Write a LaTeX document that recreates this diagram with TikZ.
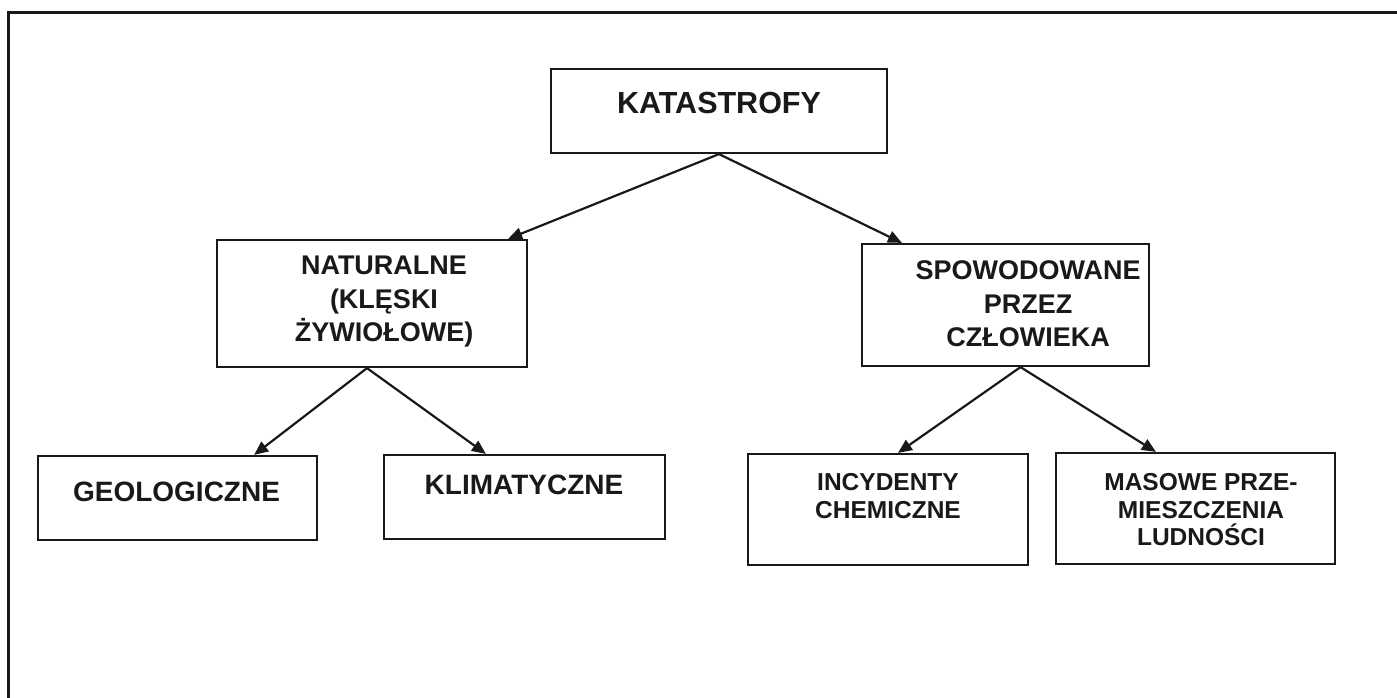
\documentclass[tikz,border=0pt]{standalone}
\usepackage{fontspec}
\setmainfont{Liberation Sans}
\usetikzlibrary{arrows.meta}
\begin{document}
\begin{tikzpicture}[x=1pt,y=-1pt,
  box/.style={draw=black!90,line width=2.2pt,rectangle,inner sep=0pt,anchor=center},
  lbl/.style={inner sep=0pt,align=center,text=black!90,font=\bfseries},
  ta/.style={lbl,font=\bfseries\fontsize{30.5}{36}\selectfont},
  tb/.style={lbl,font=\bfseries\fontsize{27}{33.5}\selectfont},
  tc/.style={lbl,font=\bfseries\fontsize{28}{33}\selectfont},
  td/.style={lbl,font=\bfseries\fontsize{24.5}{27.5}\selectfont},
  arr/.style={draw=black!90,line width=2.2pt,-{Triangle[length=14pt,width=12pt]}},
  frame/.style={draw=black!90,line width=3pt}]
\useasboundingbox (0,0) rectangle (1397,698);
\fill[white] (0,0) rectangle (1397,698);
\draw[frame] (8,698) -- (8,13) -- (1397,13);
% boxes
\node[box,minimum width=336pt,minimum height=84pt] (kat) at (719,111) {};
\node[box,minimum width=310pt,minimum height=127pt] (nat) at (372,303.5) {};
\node[box,minimum width=287pt,minimum height=122pt] (spo) at (1005.5,305) {};
\node[box,minimum width=279pt,minimum height=84pt] (geo) at (177.5,498) {};
\node[box,minimum width=281pt,minimum height=84pt] (kli) at (524.5,497) {};
\node[box,minimum width=280pt,minimum height=111pt] (inc) at (888,509.5) {};
\node[box,minimum width=279pt,minimum height=111pt] (mas) at (1195.5,508.5) {};
% texts
\node[ta] (katt) at (719,103) {KATASTROFY};
\node[tb] (natt) at (384,302) {NATURALNE\\(KLĘSKI\\ŻYWIOŁOWE)};
\node[tb] (spot) at (1028,304) {SPOWODOWANE\\PRZEZ\\CZŁOWIEKA};
\node[tc] (geot) at (176.5,492) {GEOLOGICZNE};
\node[tc] (klit) at (524,485) {KLIMATYCZNE};
\node[td] (inct) at (888,496) {INCYDENTY\\CHEMICZNE};
\node[td] (mast) at (1201,510) {MASOWE PRZE-\\MIESZCZENIA\\LUDNOŚCI};
% arrows
\draw[arr] (kat.south) -- ([xshift=-20pt]nat.north east);
\draw[arr] (kat.south) -- ([xshift=41pt]spo.north west);
\draw[arr] ([xshift=-5pt]nat.south) -- ([xshift=-64pt]geo.north east);
\draw[arr] ([xshift=-5pt]nat.south) -- ([xshift=103pt]kli.north west);
\draw[arr] ([xshift=15pt]spo.south) -- ([xshift=10pt]inc.north);
\draw[arr] ([xshift=15pt]spo.south) -- ([xshift=101pt]mas.north west);
\end{tikzpicture}
\end{document}
